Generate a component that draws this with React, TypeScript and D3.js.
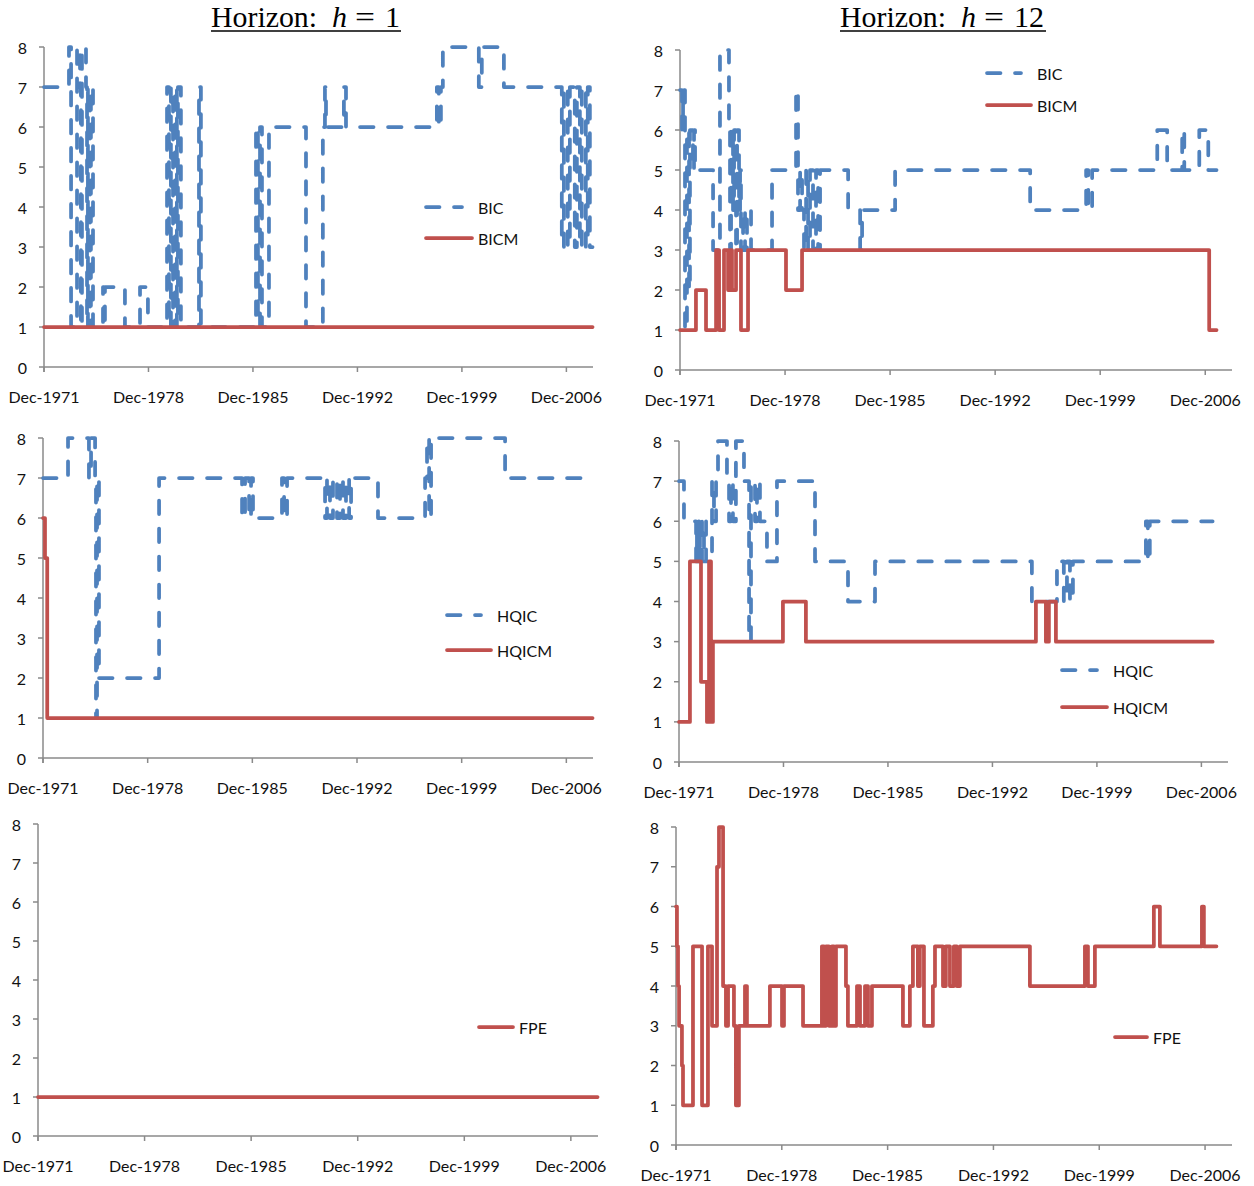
import React from 'react';
import * as d3 from 'd3';

// ---------- axis definitions ----------
const tickYears = [1971.917, 1978.917, 1985.917, 1992.917, 1999.917, 2006.917];
const tickLabels = ['Dec-1971', 'Dec-1978', 'Dec-1985', 'Dec-1992', 'Dec-1999', 'Dec-2006'];
const yTicks = [0, 1, 2, 3, 4, 5, 6, 7, 8];
const axisStart = 1971.917;
const axisEnd = 2008.7;
const endH1 = 2008.67;
const endH12 = 2007.67;

// ---------- data (change points: decimal year, selected lag order) ----------
// Horizon h = 1
const bicH1Dates = [1971.92, 1973.59, 1973.73, 1974.13, 1974.33, 1974.39, 1974.46, 1974.73, 1974.80, 1974.86, 1975.00, 1975.06, 1975.20, 1975.87, 1975.94, 1976.00, 1977.34, 1978.35, 1978.88, 1980.16, 1980.29, 1980.42, 1980.56, 1980.69, 1980.82, 1980.89, 1981.09, 1982.30, 1982.43, 1986.12, 1986.25, 1986.39, 1986.52, 1986.99, 1989.47, 1990.60, 1990.74, 1990.81, 1992.01, 1992.15, 1998.24, 1998.37, 1998.51, 1998.64, 2001.05, 2001.25, 2002.73, 2006.61, 2006.75, 2007.01, 2007.15, 2007.48, 2007.62, 2007.82, 2007.95, 2008.22, 2008.35, 2008.49];
const bicH1Values = [7, 8, 1, 8, 7, 1, 8, 7, 1, 7, 1, 7, 1, 2, 1, 2, 1, 2, 1, 7, 1, 7, 1, 7, 1, 7, 1, 7, 1, 6, 1, 6, 1, 6, 1, 6, 7, 6, 7, 6, 7, 6, 7, 8, 7, 8, 7, 3, 7, 3, 7, 3, 7, 3, 7, 3, 7, 3];
const bicmH1Dates = [1971.92];
const bicmH1Values = [1];

const hqicH1Dates = [1971.92, 1973.59, 1974.99, 1975.13, 1975.40, 1975.46, 1975.53, 1975.66, 1979.68, 1985.23, 1985.43, 1985.70, 1985.83, 1985.96, 1987.90, 1988.04, 1988.24, 1990.78, 1990.91, 1991.11, 1991.31, 1991.58, 1991.78, 1991.98, 1992.18, 1992.39, 1992.52, 1994.32, 1997.47, 1997.60, 1997.74, 1997.87, 2002.82];
const hqicH1Values = [7, 8, 7, 8, 7, 1, 7, 2, 7, 6, 7, 6, 7, 6, 7, 6, 7, 6, 7, 6, 7, 6, 7, 6, 7, 6, 7, 6, 7, 8, 6, 8, 7];
const hqicmH1Dates = [1971.92, 1972.05, 1972.2];
const hqicmH1Values = [6, 5, 1];

const fpeH1Dates = [1971.92];
const fpeH1Values = [1];

// Horizon h = 12
const bicH12Dates = [1971.92, 1972.05, 1972.12, 1972.25, 1972.38, 1972.52, 1972.58, 1972.78, 1972.85, 1972.92, 1974.12, 1974.58, 1975.18, 1975.25, 1975.32, 1975.45, 1975.52, 1975.65, 1975.72, 1975.85, 1975.92, 1975.98, 1976.12, 1976.25, 1976.38, 1976.65, 1978.05, 1979.65, 1979.78, 1979.92, 1980.05, 1980.18, 1980.32, 1980.45, 1980.58, 1980.78, 1980.98, 1981.12, 1981.25, 1983.12, 1983.92, 1984.05, 1986.25, 1995.25, 1998.98, 1999.12, 1999.38, 2003.72, 2004.38, 2005.38, 2005.52, 2006.52, 2007.12];
const bicH12Values = [7, 6, 7, 1, 6, 2, 6, 5, 6, 5, 3, 8, 6, 3, 6, 4, 6, 3, 6, 4, 5, 3, 4, 3, 4, 3, 5, 7, 4, 5, 4, 3, 5, 3, 5, 3, 5, 3, 5, 4, 3, 4, 5, 4, 5, 4, 5, 6, 5, 6, 5, 6, 5];
const bicmH12Dates = [1971.92, 1972.98, 1973.65, 1974.32, 1974.52, 1974.85, 1975.12, 1975.25, 1975.38, 1975.65, 1975.98, 1976.45, 1978.98, 1980.05, 2007.18];
const bicmH12Values = [1, 2, 1, 3, 1, 3, 2, 3, 2, 3, 1, 3, 2, 3, 1];

const hqicH12Dates = [1971.92, 1972.25, 1973.06, 1973.12, 1973.26, 1973.32, 1973.46, 1973.59, 1973.73, 1974.13, 1974.26, 1974.40, 1974.53, 1975.13, 1975.27, 1975.40, 1975.53, 1975.73, 1976.27, 1976.61, 1976.74, 1977.01, 1977.14, 1977.34, 1977.81, 1978.48, 1981.03, 1983.24, 1985.05, 1995.56, 1997.24, 1997.70, 1997.91, 1998.11, 1998.31, 2003.20, 2003.33, 2003.46];
const hqicH12Values = [7, 6, 5, 6, 5, 6, 5, 6, 5, 7, 6, 7, 8, 7, 6, 7, 6, 8, 7, 3, 7, 6, 7, 6, 5, 7, 5, 4, 5, 4, 5, 4, 5, 4, 5, 6, 5, 6];
const hqicmH12Dates = [1971.92, 1972.65, 1973.39, 1973.79, 1973.93, 1974.06, 1974.19, 1978.88, 1980.42, 1995.83, 1996.50, 1996.70, 1997.17];
const hqicmH12Values = [1, 5, 2, 1, 5, 1, 3, 4, 3, 4, 3, 4, 3];

const fpeH12Dates = [1971.92, 1971.98, 1972.05, 1972.12, 1972.31, 1972.38, 1973.04, 1973.64, 1974.03, 1974.30, 1974.63, 1974.76, 1975.03, 1975.22, 1975.36, 1975.75, 1975.88, 1976.08, 1976.48, 1976.61, 1978.13, 1978.93, 1979.06, 1980.32, 1981.57, 1981.71, 1981.84, 1982.04, 1982.23, 1982.37, 1982.50, 1983.16, 1983.29, 1983.89, 1984.09, 1984.42, 1984.62, 1984.88, 1986.93, 1987.39, 1987.59, 1987.92, 1988.05, 1988.32, 1988.91, 1989.05, 1989.58, 1989.77, 1990.04, 1990.30, 1990.50, 1990.70, 1995.33, 1998.97, 1999.17, 1999.63, 2003.53, 2003.93, 2006.71, 2006.84];
const fpeH12Values = [6, 5, 4, 3, 2, 1, 5, 1, 5, 3, 7, 8, 4, 3, 4, 3, 1, 3, 4, 3, 4, 3, 4, 3, 5, 3, 5, 3, 5, 3, 5, 4, 3, 4, 3, 4, 3, 4, 3, 4, 5, 4, 5, 3, 4, 5, 4, 5, 4, 5, 4, 5, 4, 5, 4, 5, 6, 5, 6, 5];

// ---------- styles ----------
const RED = '#C0504D';
const BLUE = '#4F81BD';
const AXIS = '#8a8a8a';
const FONT = 'Lato, "Open Sans", sans-serif';
const LINE_W = 3.75;
const DASH = '13.5 14.5';

type Series = { name: string; dates: number[]; values: number[]; end: number; dashed: boolean };
type Layout = { left: number; right: number; top: number; bottom: number };
type Legend = { x: number; textX: number; rows: number[] };

function Panel({ lay, series, legend }: { lay: Layout; series: Series[]; legend: Legend }) {
  const x = d3.scaleLinear().domain([axisStart, axisEnd]).range([lay.left, lay.right]);
  const y = d3.scaleLinear().domain([0, 8]).range([lay.bottom, lay.top]);
  const line = d3
    .line<[number, number]>()
    .x((d) => x(d[0]))
    .y((d) => y(d[1]))
    .curve(d3.curveStepAfter);

  return (
    <g>
      <line x1={lay.left} x2={lay.left} y1={y(8)} y2={y(0) + 5} stroke={AXIS} strokeWidth={1.5} />
      <line x1={lay.left} x2={lay.right} y1={y(0)} y2={y(0)} stroke={AXIS} strokeWidth={1.5} />
      {yTicks.map((t) => (
        <g key={'y' + t}>
          <line x1={lay.left - 5} x2={lay.left} y1={y(t)} y2={y(t)} stroke={AXIS} strokeWidth={1.5} />
          <text
            x={lay.left - 17}
            y={y(t)}
            textAnchor="end"
            dominantBaseline="central"
            fontFamily={FONT}
            fontSize={16}
            fill="#111"
          >
            {t}
          </text>
        </g>
      ))}
      {tickYears.map((t, i) => (
        <g key={'x' + i}>
          <line x1={x(t)} x2={x(t)} y1={y(0)} y2={y(0) + 5} stroke={AXIS} strokeWidth={1.5} />
          <text
            x={x(t)}
            y={y(0) + 29}
            textAnchor="middle"
            dominantBaseline="central"
            fontFamily={FONT}
            fontSize={16}
            fill="#111"
          >
            {tickLabels[i]}
          </text>
        </g>
      ))}
      {series.map((s) => {
        const pts: [number, number][] = s.dates.map((d, i) => [d, s.values[i]] as [number, number]);
        pts.push([s.end, s.values[s.values.length - 1]]);
        return (
          <path
            key={s.name}
            d={line(pts) || ''}
            fill="none"
            stroke={s.dashed ? BLUE : RED}
            strokeWidth={LINE_W}
            strokeDasharray={s.dashed ? DASH : undefined}
            strokeLinecap="round"
            strokeLinejoin="round"
          />
        );
      })}
      {series.map((s, i) => {
        const ly = legend.rows[i];
        const x2 = s.dashed ? legend.textX - 14 : legend.textX - 4;
        return (
          <g key={'lg' + s.name}>
            <line
              x1={legend.x + 2}
              x2={x2 - 2}
              y1={ly}
              y2={ly}
              stroke={s.dashed ? BLUE : RED}
              strokeWidth={LINE_W}
              strokeDasharray={s.dashed ? DASH : undefined}
              strokeLinecap="round"
            />
            <text x={legend.textX} y={ly} dominantBaseline="central" fontFamily={FONT} fontSize={16} fill="#111">
              {s.name}
            </text>
          </g>
        );
      })}
    </g>
  );
}

function Title({ left, num }: { left: number; num: string }) {
  const font = '"Liberation Serif", "DejaVu Serif", serif';
  const width = num.length > 1 ? 206 : 190;
  return (
    <g fontFamily={font} fontSize={30} fill="#000">
      <text x={left} y={27} textLength={106} lengthAdjust="spacingAndGlyphs">
        Horizon:
      </text>
      <text x={left + 121} y={27} fontStyle="italic">
        h
      </text>
      <text x={left + 144} y={27} textLength={20} lengthAdjust="spacingAndGlyphs">
        =
      </text>
      <text x={left + 174} y={27}>{num}</text>
      <line x1={left} x2={left + width} y1={31} y2={31} stroke="#000" strokeWidth={1.5} />
    </g>
  );
}

const panels: { lay: Layout; series: Series[]; legend: Legend }[] = [
  {
    lay: { left: 44, right: 593, top: 47, bottom: 367 },
    series: [
      { name: 'BIC', dates: bicH1Dates, values: bicH1Values, end: endH1, dashed: true },
      { name: 'BICM', dates: bicmH1Dates, values: bicmH1Values, end: endH1, dashed: false },
    ],
    legend: { x: 424, textX: 478, rows: [207, 238] },
  },
  {
    lay: { left: 680, right: 1232, top: 50, bottom: 370 },
    series: [
      { name: 'BIC', dates: bicH12Dates, values: bicH12Values, end: endH12, dashed: true },
      { name: 'BICM', dates: bicmH12Dates, values: bicmH12Values, end: endH12, dashed: false },
    ],
    legend: { x: 985, textX: 1037, rows: [73, 105] },
  },
  {
    lay: { left: 43, right: 593, top: 438, bottom: 758 },
    series: [
      { name: 'HQIC', dates: hqicH1Dates, values: hqicH1Values, end: endH1, dashed: true },
      { name: 'HQICM', dates: hqicmH1Dates, values: hqicmH1Values, end: endH1, dashed: false },
    ],
    legend: { x: 445, textX: 497, rows: [615, 650] },
  },
  {
    lay: { left: 679, right: 1228, top: 441, bottom: 762 },
    series: [
      { name: 'HQIC', dates: hqicH12Dates, values: hqicH12Values, end: endH12, dashed: true },
      { name: 'HQICM', dates: hqicmH12Dates, values: hqicmH12Values, end: endH12, dashed: false },
    ],
    legend: { x: 1060, textX: 1113, rows: [670, 707] },
  },
  {
    lay: { left: 38, right: 598, top: 824, bottom: 1136 },
    series: [{ name: 'FPE', dates: fpeH1Dates, values: fpeH1Values, end: endH1, dashed: false }],
    legend: { x: 477, textX: 519, rows: [1027] },
  },
  {
    lay: { left: 676, right: 1232, top: 827, bottom: 1145 },
    series: [{ name: 'FPE', dates: fpeH12Dates, values: fpeH12Values, end: endH12, dashed: false }],
    legend: { x: 1113, textX: 1153, rows: [1037] },
  },
];

export default function App() {
  return (
    <svg
      width={1254}
      height={1186}
      viewBox="0 0 1254 1186"
      style={{ position: 'absolute', left: 0, top: 0, background: '#fff' }}
    >
      <rect x={0} y={0} width={1254} height={1186} fill="#fff" />
      <Title left={211} num="1" />
      <Title left={840} num="12" />
      {panels.map((p, i) => (
        <Panel key={i} lay={p.lay} series={p.series} legend={p.legend} />
      ))}
    </svg>
  );
}
